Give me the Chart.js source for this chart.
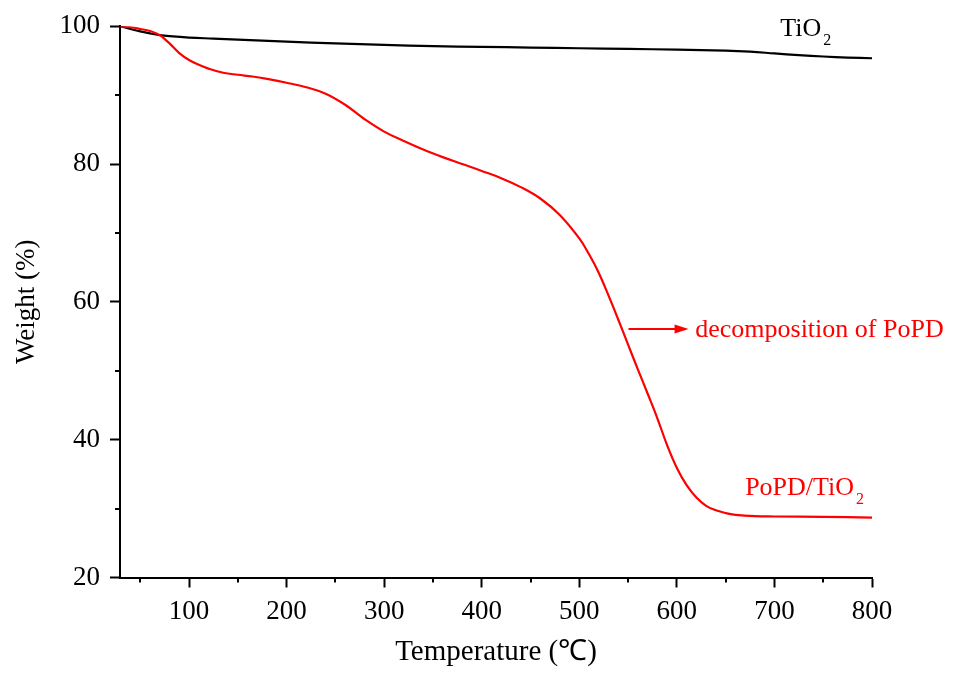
<!DOCTYPE html>
<html>
<head>
<meta charset="utf-8">
<title>TGA</title>
<script src="https://cdn.jsdelivr.net/npm/chart.js@4.4.1/dist/chart.umd.min.js"></script>
<style>
  html, body { margin: 0; padding: 0; background: #fff; }
  canvas { display: block; }
</style>
</head>
<body>
<canvas id="mycanvas" width="959" height="679"></canvas>
<script>
// TGA curves, weight (%) vs temperature (C)
var tio2Temp = [30, 40, 50, 60, 70, 80, 100, 125, 150, 200, 250, 300, 350, 400, 450, 500, 550, 600, 650, 675, 700, 725, 750, 775, 800];
var tio2Weight = [100, 99.6, 99.25, 98.95, 98.7, 98.55, 98.35, 98.2, 98.05, 97.75, 97.5, 97.3, 97.1, 97.0, 96.9, 96.8, 96.7, 96.6, 96.45, 96.3, 96.05, 95.8, 95.6, 95.45, 95.35];

var popdTemp = [30, 40, 50, 60, 70, 80, 90, 100, 110, 120, 135, 150, 165, 180, 200, 220, 240, 260, 280, 300, 320, 340, 360, 380, 400, 420, 440, 460, 480, 500, 510, 520, 530, 540, 550, 560, 570, 580, 590, 600, 610, 620, 630, 640, 650, 660, 680, 700, 750, 800];
var popdWeight = [100, 99.85, 99.6, 99.3, 98.7, 97.5, 96.1, 95.1, 94.4, 93.85, 93.25, 92.95, 92.7, 92.35, 91.8, 91.15, 90.2, 88.6, 86.5, 84.7, 83.35, 82.1, 81.0, 80.0, 79.0, 77.95, 76.65, 75.0, 72.6, 69.2, 66.9, 64.2, 60.9, 57.4, 53.8, 50.2, 46.7, 43.1, 39.2, 35.9, 33.4, 31.6, 30.4, 29.75, 29.35, 29.1, 28.9, 28.85, 28.8, 28.7];

var xTicks = [100, 200, 300, 400, 500, 600, 700, 800];
var xMinorTicks = [50, 150, 250, 350, 450, 550, 650, 750];
var yTicks = [20, 40, 60, 80, 100];
var yMinorTicks = [30, 50, 70, 90];

var serif = "'Liberation Serif', 'Times New Roman', serif";

function toPoints(xs, ys) {
  var pts = [];
  for (var i in xs) {
    pts.push({x: xs[i], y: ys[i]});
  }
  return pts;
}

// short outward ticks between the labelled ones
var minorTicks = {
  id: 'minorTicks',
  afterDraw: function(chart) {
    var ctx = chart.ctx;
    var xs = chart.scales.x, ys = chart.scales.y;
    var area = chart.chartArea;
    ctx.save();
    ctx.strokeStyle = '#000';
    ctx.lineWidth = 2;
    ctx.beginPath();
    xMinorTicks.forEach(function(v) {
      var px = Math.round(xs.getPixelForValue(v));
      ctx.moveTo(px, area.bottom);
      ctx.lineTo(px, area.bottom + 5);
    });
    yMinorTicks.forEach(function(v) {
      var py = Math.round(ys.getPixelForValue(v));
      ctx.moveTo(area.left, py);
      ctx.lineTo(area.left - 5, py);
    });
    ctx.stroke();
    ctx.restore();
  }
};

// text with a subscript tail, e.g. TiO + 2
function subText(ctx, x, y, main, sub, color) {
  ctx.fillStyle = color;
  ctx.font = '26px ' + serif;
  ctx.textAlign = 'left';
  ctx.textBaseline = 'alphabetic';
  ctx.fillText(main, x, y);
  var w = ctx.measureText(main).width;
  ctx.font = '16px ' + serif;
  ctx.fillText(sub, x + w + 2, y + 9);
}

var labels = {
  id: 'labels',
  afterDatasetsDraw: function(chart) {
    var ctx = chart.ctx;
    var xs = chart.scales.x, ys = chart.scales.y;
    ctx.save();
    subText(ctx, xs.getPixelForValue(706), ys.getPixelForValue(98.6), 'TiO', '2', '#000');
    subText(ctx, xs.getPixelForValue(670), ys.getPixelForValue(32), 'PoPD/TiO', '2', '#f00');

    // arrow pointing at the steep drop
    var ay = ys.getPixelForValue(56.06);
    var ax0 = xs.getPixelForValue(550.4);
    var ax1 = xs.getPixelForValue(612);
    ctx.strokeStyle = '#f00';
    ctx.fillStyle = '#f00';
    ctx.lineWidth = 2;
    ctx.beginPath();
    ctx.moveTo(ax0, ay);
    ctx.lineTo(ax1 - 12, ay);
    ctx.stroke();
    ctx.beginPath();
    ctx.moveTo(ax1, ay);
    ctx.lineTo(ax1 - 14, ay - 4.5);
    ctx.lineTo(ax1 - 14, ay + 4.5);
    ctx.closePath();
    ctx.fill();

    ctx.font = '26px ' + serif;
    ctx.textAlign = 'left';
    ctx.textBaseline = 'alphabetic';
    ctx.fillText('decomposition of PoPD', xs.getPixelForValue(618.8), ys.getPixelForValue(54.9));
    ctx.restore();
  }
};

var ctx = document.getElementById('mycanvas');

var chartdata = {
  datasets: [
    {
      label: 'PoPD/TiO2',
      data: toPoints(popdTemp, popdWeight),
      borderColor: '#ff0000',
      borderWidth: 2.2,
      pointRadius: 0,
      fill: false,
      tension: 0.4
    },
    {
      label: 'TiO2',
      data: toPoints(tio2Temp, tio2Weight),
      borderColor: '#000000',
      borderWidth: 2.2,
      pointRadius: 0,
      fill: false,
      tension: 0.4
    }
  ]
};

var LineGraph = new Chart(ctx, {
  type: 'line',
  data: chartdata,
  plugins: [minorTicks, labels],
  options: {
    responsive: false,
    animation: false,
    devicePixelRatio: 1,
    layout: { padding: { top: 19.5, right: 87, left: 0, bottom: 0 } },
    plugins: {
      legend: { display: false },
      tooltip: { enabled: false }
    },
    scales: {
      x: {
        type: 'linear',
        min: 29.25,
        max: 800,
        afterBuildTicks: function(scale) {
          scale.ticks = xTicks.map(function(v) { return {value: v}; });
        },
        afterFit: function(scale) { scale.height = 101.5; },
        grid: {
          drawOnChartArea: false,
          drawTicks: true,
          tickLength: 10,
          tickWidth: 2,
          tickColor: '#000'
        },
        border: { display: true, color: '#000', width: 2 },
        ticks: {
          color: '#000',
          padding: 8,
          maxRotation: 0,
          font: { family: serif, size: 27 }
        },
        title: {
          display: true,
          text: 'Temperature (\u2103)',
          color: '#000',
          font: { family: serif, size: 29 },
          padding: { top: 0, bottom: 9 }
        }
      },
      y: {
        min: 20,
        max: 100,
        afterBuildTicks: function(scale) {
          scale.ticks = yTicks.map(function(v) { return {value: v}; });
        },
        afterFit: function(scale) { scale.width = 120; },
        grid: {
          drawOnChartArea: false,
          drawTicks: true,
          tickLength: 10,
          tickWidth: 2,
          tickColor: '#000'
        },
        border: { display: true, color: '#000', width: 2 },
        ticks: {
          color: '#000',
          padding: 10,
          font: { family: serif, size: 27 }
        },
        title: {
          display: true,
          text: 'Weight (%)',
          color: '#000',
          font: { family: serif, size: 27 },
          padding: { top: 11, bottom: 0 }
        }
      }
    }
  }
});
</script>
</body>
</html>
